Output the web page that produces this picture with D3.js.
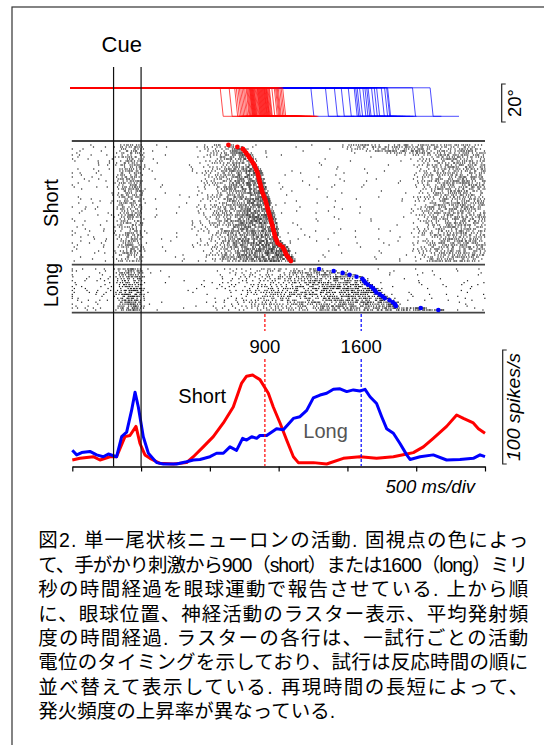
<!DOCTYPE html>
<html><head><meta charset="utf-8">
<script src="https://cdn.jsdelivr.net/npm/d3@7"></script>
<style>body{margin:0;background:#fff}svg{display:block}</style>
</head><body>
<svg id="c" width="544" height="745"></svg>
<script>
// ---------------- DATA ----------------
// time axis (ms from cue), tick values
const xTicks = [-500, 0, 500, 1000, 1500, 2000, 2500];
const cueTimes = [-200, 0];
const intervalMarks = [900, 1600];
const intervalLabels = ["900", "1600"];

// mean firing rate (spikes/s)
const psthShortT = [-500,-444,-347,-299,-226,-178,-117,-81,-37,-8,28,65,137,234,331,380,452,525,598,670,731,767,811,864,925,961,1010,1058,1107,1143,1252,1349,1470,1591,1712,1834,1931,1979,2052,2124,2221,2294,2343,2415,2452,2500];
const psthShortR = [3.5,5,6.4,3.5,6.4,6.4,24,25,33,18,8,5,0.6,0,1.2,6.4,15,24,36,50,71,77,78,74,62,50,36,21,6.4,1.2,1.2,0,5,6.4,5,6.4,8.8,10,15,22.5,33,43,40,36,31,27];
const psthLongT = [-500,-468,-432,-372,-323,-275,-238,-178,-141,-105,-69,-44,-20,16,53,113,162,258,331,380,428,501,549,598,646,694,738,767,804,840,864,913,985,1034,1107,1155,1204,1252,1301,1349,1398,1446,1495,1543,1591,1628,1664,1712,1749,1785,1834,1882,1931,1955,2028,2124,2221,2318,2415,2464,2500];
const psthLongR = [12,8,10,11,8,6.4,8.8,6.4,24,28,47,63,50,24,9.4,1.2,0,0,2,3.5,4,6.4,9.4,9.4,15,12,22.5,21,24,22.5,25,25,31,30,40,41.5,47,58,60.5,62,65.5,66,63.5,65,64,65.5,59,53,41.5,31,27,18,8,4,6.4,8,3.5,4,5,8,6.4];

// response (saccade) times per trial, sorted (ms)
const shortRT = [635,700,740,752,764,774,784,794,804,813,823,829,835,841,847,850,854,857,861,864,868,871,875,879,883,889,895,901,905,909,913,917,921,925,929,933,937,941,945,949,953,956,960,964,968,971,975,981,987,992,1010,1028,1037,1044,1050,1057,1068,1078,1089];
const longRT = [1294,1400,1465,1515,1566,1609,1620,1631,1648,1672,1687,1700,1710,1735,1755,1772,1806,1830,1845,1852,2033,2161];
const eyeLeadMs = 60;            // eye trace leaves fixation before marker
const eyePostShort = 260, eyePostLong = 210;
const eyeFix = 8, eyeTarget = -7; // deg

// raster density profiles (spikes/s) read from the raster
const baseShort = 5.5, baseLong = 7, postShort = 2.2, postLong = 3;
const cueT = [-200,-170,-140,-100,-60,-20,10,40,80];
const shortCueR = [6,16,40,52,55,48,24,6,1.5];
const longCueR = [8,22,55,75,85,70,35,8,1.5];
const shortRampT = [350,450,550,650,750,850,1000,1100];
const shortRampR = [1.5,12,32,58,85,100,115,120];
const longRampT = [350,500,700,900,1100,1300,1500,1700,1900,2200];
const longRampR = [1.5,6,15,25,38,53,66,76,85,90];
const shortLateT = [1950,2050,2150,2250,2350,2500];
const shortLateR = [2.2,25,45,58,55,45];
const shortLateStart = [1420,1430,1450,1560,1700,1850];

const captionLines = [
  "図2. 単一尾状核ニューロンの活動. 固視点の色によっ",
  "て、手がかり刺激から900（short）または1600（long）ミリ",
  "秒の時間経過を眼球運動で報告させている. 上から順",
  "に、眼球位置、神経活動のラスター表示、平均発射頻",
  "度の時間経過. ラスターの各行は、一試行ごとの活動",
  "電位のタイミングを示しており、試行は反応時間の順に",
  "並べ替えて表示している. 再現時間の長短によって、",
  "発火頻度の上昇率が異なっている."
];

// ---------------- DRAW ----------------
const svg = d3.select("#c");
const LAT = "Liberation Sans, Arial, sans-serif";
const RED = "#ff0000", BLUE = "#0000ff";

const x = d3.scaleLinear().domain([-500, 2500]).range([72.3, 485]);
const rateY = d3.scaleLinear().domain([0, 100]).range([464, 350]);
const eyeY = d3.scaleLinear().domain([10, -10]).range([84, 122]);
const sRowY = d3.scaleLinear().domain([0, shortRT.length - 1]).range([145, 261]);
const lRowY = d3.scaleLinear().domain([0, longRT.length - 1]).range([269, 310]);

// frame
svg.append("rect").attr("x", 12).attr("y", 7).attr("width", 620).attr("height", 800)
  .attr("fill", "none").attr("stroke", "#333").attr("stroke-width", 1.2);

// ---- raster dots (rate profiles rendered to spike ticks by deterministic dithering)
function interp(T, R) { return d3.scaleLinear().domain(T).range(R).clamp(true); }
const sCue = interp(cueT, shortCueR), lCue = interp(cueT, longCueR);
const sRamp = interp(shortRampT, shortRampR), lRamp = interp(longRampT, longRampR);
const sLate = interp(shortLateT, shortLateR);
function shortRate(i, t) {
  const rt = shortRT[i];
  if (t < cueT[0]) return baseShort;
  if (t <= cueT[cueT.length - 1]) return sCue(t);
  if (t <= rt + 40) return Math.max(1.5, sRamp(t));
  const ls = i < shortLateStart.length ? shortLateStart[i] : 1950;
  const tl = t - (ls - 1950);
  if (tl >= 1950) return Math.max(postShort, sLate(tl));
  return postShort;
}
function longRate(i, t) {
  const rt = longRT[i];
  if (t < cueT[0]) return baseLong;
  if (t <= cueT[cueT.length - 1]) return lCue(t);
  if (t <= rt + 40) return Math.max(1.5, lRamp(t));
  return postLong;
}
function hashU(a, b) {
  let h = Math.imul(a ^ 0x9e3779b9, 0x85ebca6b) ^ Math.imul(b + 0x632be5ab, 0xc2b2ae35);
  h ^= h >>> 16; h = Math.imul(h, 0x7feb352d);
  h ^= h >>> 15; h = Math.imul(h, 0x846ca68b);
  h ^= h >>> 16;
  return (h >>> 0) / 4294967296;
}
function spikeTrain(rateFn, i, seed) {
  const out = [];
  let k = 0;
  const thr = () => 0.35 - 0.65 * Math.log(1 - hashU(seed, k) * 0.999);
  let acc = hashU(seed, 9999), th = thr();
  for (let t = -500; t <= 2500; t += 1) {
    acc += rateFn(i, t) / 1000;
    if (acc >= th) { out.push(t); acc -= th; k++; th = thr(); }
  }
  return out;
}
const shortSpikes = [], longSpikes = [];
shortRT.forEach((rt, i) => spikeTrain(shortRate, i, i + 1).forEach(t => shortSpikes.push({ t, i })));
longRT.forEach((rt, i) => spikeTrain(longRate, i, i + 101).forEach(t => longSpikes.push({ t, i })));

const dotG = svg.append("g").attr("fill", "#1a1a1a");
dotG.selectAll("rect.s").data(shortSpikes).join("rect").attr("class", "s")
  .attr("x", d => x(d.t) - 0.6).attr("y", d => sRowY(d.i) - 0.6)
  .attr("width", 1.2).attr("height", 1.2);
dotG.selectAll("rect.l").data(longSpikes).join("rect").attr("class", "l")
  .attr("x", d => x(d.t) - 0.6).attr("y", d => lRowY(d.i) - 0.6)
  .attr("width", 1.2).attr("height", 1.2);

// raster frame lines
[141, 264.7, 312.7].forEach(yv => {
  svg.append("line").attr("x1", x(-500) - 0.5).attr("x2", x(2500)).attr("y1", yv).attr("y2", yv)
    .attr("stroke", "#444").attr("stroke-width", 1.8);
});

// markers
svg.append("g").selectAll("circle").data(shortRT).join("circle")
  .attr("cx", d => x(d)).attr("cy", (d, i) => sRowY(i)).attr("r", 2.4).attr("fill", RED);
svg.append("g").selectAll("circle").data(longRT).join("circle")
  .attr("cx", d => x(d)).attr("cy", (d, i) => lRowY(i)).attr("r", 2.3).attr("fill", BLUE);

// ---- eye traces
const eyeLine = d3.line().x(d => x(d[0])).y(d => eyeY(d[1]));
function eyePts(rt, post) {
  const s = rt - eyeLeadMs;
  return [[-515, eyeFix], [s, eyeFix], [s + 22, eyeTarget], [s + post, eyeTarget]];
}
svg.append("g").selectAll("path").data(longRT).join("path")
  .attr("d", d => eyeLine(eyePts(d, eyePostLong))).attr("fill", "none")
  .attr("stroke", BLUE).attr("stroke-width", 0.7);
svg.append("g").selectAll("path").data(shortRT).join("path")
  .attr("d", d => eyeLine(eyePts(d, eyePostShort))).attr("fill", "none")
  .attr("stroke", RED).attr("stroke-width", 0.7);

// eye scale bar
function bracket(xv, y0, y1) {
  return `M${xv + 4},${y0}H${xv}V${y1}H${xv + 4}`;
}
svg.append("path").attr("d", bracket(501.7, eyeY(10), eyeY(-10)))
  .attr("fill", "none").attr("stroke", "#222").attr("stroke-width", 1.2);
svg.append("text").attr("transform", `translate(521,${eyeY(0)}) rotate(-90)`)
  .attr("text-anchor", "middle").attr("font-family", LAT).attr("font-size", 18.5)
  .text("20°");

// ---- PSTH
const rLine = d3.line().x(d => x(d[0])).y(d => rateY(d[1]));
svg.append("path").attr("d", rLine(psthShortT.map((t, i) => [t, psthShortR[i]])))
  .attr("fill", "none").attr("stroke", RED).attr("stroke-width", 3).attr("stroke-linejoin", "round");
svg.append("path").attr("d", rLine(psthLongT.map((t, i) => [t, psthLongR[i]])))
  .attr("fill", "none").attr("stroke", BLUE).attr("stroke-width", 3).attr("stroke-linejoin", "round");

// interval dashed lines + labels
[RED, BLUE].forEach((col, k) => {
  const xv = x(intervalMarks[k]);
  svg.append("line").attr("x1", xv).attr("x2", xv).attr("y1", 314).attr("y2", 331)
    .attr("stroke", col).attr("stroke-width", 1.2).attr("stroke-dasharray", "3,2");
  svg.append("line").attr("x1", xv).attr("x2", xv).attr("y1", 359).attr("y2", 466)
    .attr("stroke", col).attr("stroke-width", 1.2).attr("stroke-dasharray", "3,2");
  svg.append("text").attr("x", xv).attr("y", 353).attr("text-anchor", "middle")
    .attr("font-family", LAT).attr("font-size", 18.5).text(intervalLabels[k]);
});

// axis
const ax = svg.append("g").attr("transform", "translate(0,466.5)")
  .call(d3.axisBottom(x).tickValues(xTicks).tickFormat("").tickSize(5).tickSizeOuter(0));
ax.select(".domain").attr("stroke", "#000").attr("stroke-width", 1.4);
ax.selectAll(".tick line").attr("stroke", "#000").attr("stroke-width", 1.2);

// cue lines
cueTimes.forEach(t => {
  svg.append("line").attr("x1", x(t)).attr("x2", x(t)).attr("y1", 67).attr("y2", 466.5)
    .attr("stroke", "#111").attr("stroke-width", 1.2);
});

// rate scale bar
svg.append("path").attr("d", bracket(502.7, rateY(100), rateY(0)))
  .attr("fill", "none").attr("stroke", "#222").attr("stroke-width", 1.2);
svg.append("text").attr("transform", `translate(520,${(rateY(100) + rateY(0)) / 2}) rotate(-90)`)
  .attr("text-anchor", "middle").attr("font-family", LAT).attr("font-size", 18.5)
  .attr("font-style", "italic").attr("textLength", 108).attr("lengthAdjust", "spacingAndGlyphs")
  .text("100 spikes/s");

// labels
svg.append("text").attr("x", 121.7).attr("y", 51.5).attr("text-anchor", "middle")
  .attr("font-family", LAT).attr("font-size", 22).text("Cue");
svg.append("text").attr("transform", "translate(58,203) rotate(-90)").attr("text-anchor", "middle")
  .attr("font-family", LAT).attr("font-size", 20).text("Short");
svg.append("text").attr("transform", "translate(58,285) rotate(-90)").attr("text-anchor", "middle")
  .attr("font-family", LAT).attr("font-size", 20).text("Long");
svg.append("text").attr("x", 178.3).attr("y", 403).attr("font-family", LAT).attr("font-size", 20).text("Short");
svg.append("text").attr("x", 303.3).attr("y", 438).attr("font-family", LAT).attr("font-size", 20)
  .attr("fill", "#555").text("Long");
svg.append("text").attr("x", 475).attr("y", 493).attr("text-anchor", "end").attr("font-family", LAT)
  .attr("font-size", 18.5).attr("font-style", "italic").text("500 ms/div");

// caption (Latin primary font keeps the line box tight; CJK falls back to Noto Sans CJK JP)
const cap = svg.append("g").attr("font-family", "Liberation Sans, Noto Sans CJK JP, sans-serif")
  .attr("font-size", 19.5).attr("fill", "#000");
captionLines.forEach((s, i) => {
  const t = cap.append("text").attr("x", 38.3).attr("y", 547.3 + i * 24.43).text(s);
  if (i < captionLines.length - 1) t.attr("textLength", 490).attr("lengthAdjust", "spacing");
});
</script>
</body></html>
